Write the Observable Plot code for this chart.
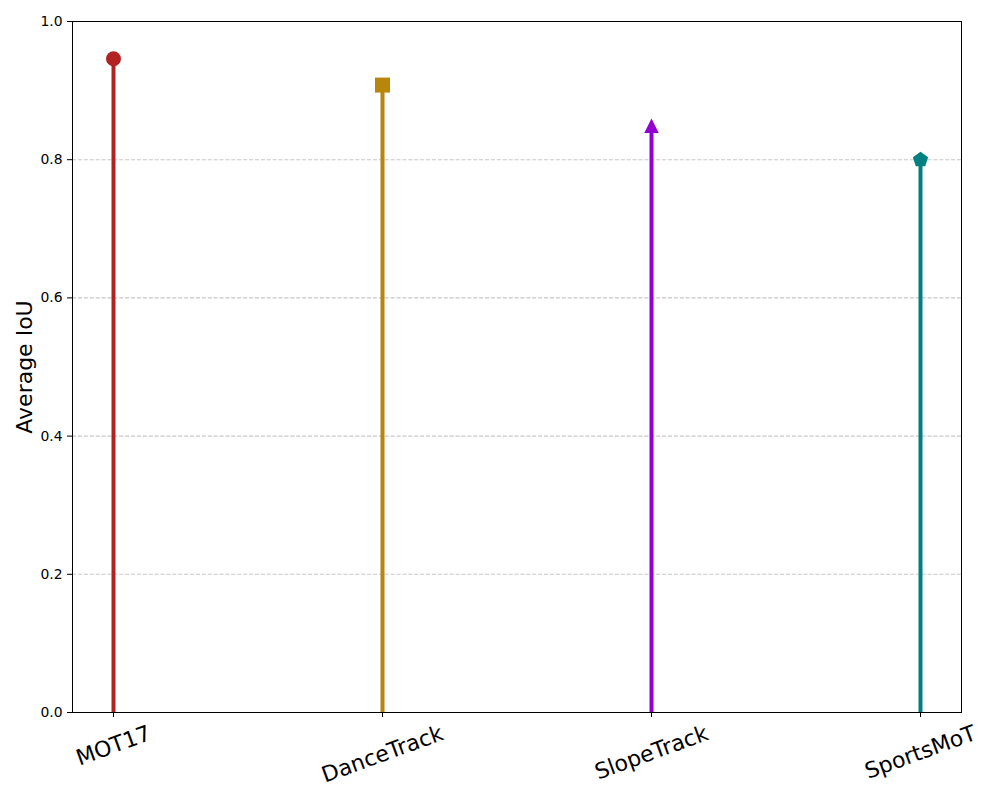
<!DOCTYPE html>
<html>
<head>
<meta charset="utf-8">
<script src="https://cdn.jsdelivr.net/npm/d3@7"></script>
<script src="https://cdn.jsdelivr.net/npm/@observablehq/plot@0.6"></script>
<style>
  html, body { margin: 0; padding: 0; background: #fff; }
  #chart { width: 1000px; height: 800px; }
</style>
</head>
<body>
<div id="chart"></div>
<script>
// ---- data ----
const datasets = ["MOT17", "DanceTrack", "SlopeTrack", "SportsMoT"];
const avgIoU = [0.946, 0.908, 0.849, 0.800];
const colors = ["#b22222", "#b8860b", "#9400d3", "#008080"];
const markers = ["circle", "square", "triangle", "pentagon"];
const yTicks = [0.0, 0.2, 0.4, 0.6, 0.8, 1.0];
const yLabel = "Average IoU";

const data = datasets.map((name, i) => ({name, value: avgIoU[i], color: colors[i], marker: markers[i]}));

// ---- custom marker shapes (size = pi r^2) ----
const symbols = {
  circle: {draw(ctx, size) { const r = Math.sqrt(size / Math.PI); ctx.moveTo(r, 0); ctx.arc(0, 0, r, 0, 2 * Math.PI); ctx.closePath(); }},
  square: {draw(ctx, size) { const r = Math.sqrt(size / Math.PI); ctx.moveTo(-r, -r); ctx.lineTo(r, -r); ctx.lineTo(r, r); ctx.lineTo(-r, r); ctx.closePath(); }},
  triangle: {draw(ctx, size) { const r = Math.sqrt(size / Math.PI) * 0.97; ctx.moveTo(0, -r); ctx.lineTo(r, r); ctx.lineTo(-r, r); ctx.closePath(); }},
  pentagon: {draw(ctx, size) { const r = Math.sqrt(size / Math.PI) * 1.07; for (let k = 0; k < 5; k++) { const a = -Math.PI / 2 + k * 2 * Math.PI / 5; const px = r * Math.cos(a), py = r * Math.sin(a); if (k === 0) ctx.moveTo(px, py); else ctx.lineTo(px, py); } ctx.closePath(); }}
};

// ---- label offsets for rotated x labels (matplotlib-like centered bbox) ----
const fsX = 22;
const canvas = document.createElement("canvas");
const c2d = canvas.getContext("2d");
c2d.font = `${fsX}px 'DejaVu Sans'`;
const rad = 20 * Math.PI / 180;
function labelDy(t) {
  const L = c2d.measureText(t).width;
  const H = 1.0 * fsX;
  return 9.7 + (L * Math.sin(rad) + H * Math.cos(rad)) / 2;
}

const chart = Plot.plot({
  width: 1000,
  height: 800,
  marginLeft: 72,
  marginRight: 39,
  marginTop: 21,
  marginBottom: 88,
  style: {fontFamily: "'DejaVu Sans', sans-serif", fontSize: "14px", color: "black", background: "white"},
  x: {type: "point", domain: datasets, padding: 0.15, align: 0.5, label: null},
  y: {domain: [0, 1], label: null},
  marks: [
    Plot.gridY(yTicks.slice(1, -1), {stroke: "#b0b0b0", strokeOpacity: 0.7, strokeWidth: 1.1, strokeDasharray: "4.1,1.8"}),
    Plot.ruleX(data, {x: "name", y1: 0, y2: "value", stroke: "color", strokeWidth: 4}),
    ...data.map(d => Plot.dot([d], {x: "name", y: "value", r: 7.5, symbol: symbols[d.marker], fill: d.color, stroke: "none"})),
    Plot.axisY({ticks: yTicks, tickFormat: d3.format(".1f"), tickSize: 5, tickPadding: 5, fontSize: 13.9, label: null}),
    Plot.axisX({tickSize: 5, tickFormat: () => "", label: null}),
    ...datasets.map(t => Plot.text([t], {x: d => d, text: d => d, frameAnchor: "bottom", dy: labelDy(t), rotate: -20, textAnchor: "middle", lineAnchor: "middle", fontSize: fsX, fill: "black"})),
    Plot.text([yLabel], {text: d => d, frameAnchor: "left", dx: -48, rotate: -90, textAnchor: "middle", lineAnchor: "middle", fontSize: 22, fill: "black"}),
    Plot.frame({stroke: "black", strokeWidth: 1})
  ]
});
document.getElementById("chart").appendChild(chart);
</script>
</body>
</html>
